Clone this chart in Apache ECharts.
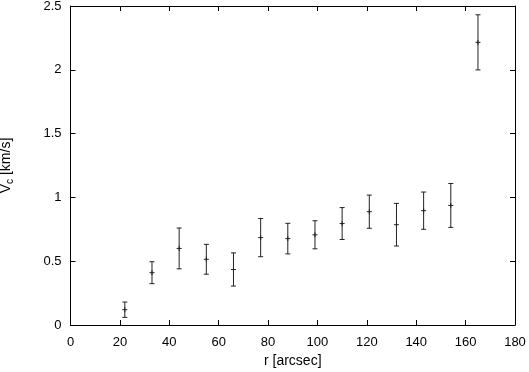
<!DOCTYPE html>
<html>
<head>
<meta charset="utf-8">
<script src="https://cdn.jsdelivr.net/npm/echarts@6/dist/echarts.min.js"></script>
<style>
html,body{margin:0;padding:0;background:#fff;}
#chart{width:529px;height:372px;}
</style>
</head>
<body>
<div id="chart"></div>
<script>
// Data
var radius = [22, 33, 44, 55, 66, 77, 88, 99, 110, 121, 132, 143, 154, 165];
var velocity = [0.12, 0.41, 0.60, 0.515, 0.435, 0.685, 0.677, 0.707, 0.795, 0.888, 0.786, 0.896, 0.937, 2.215];
var errLow = [0.06, 0.086, 0.16, 0.117, 0.13, 0.15, 0.12, 0.11, 0.125, 0.13, 0.167, 0.146, 0.172, 0.216];
var errHigh = [0.06, 0.086, 0.16, 0.117, 0.13, 0.15, 0.12, 0.11, 0.125, 0.13, 0.167, 0.146, 0.172, 0.216];
var xTicks = [0, 20, 40, 60, 80, 100, 120, 140, 160, 180];
var yTicks = [0, 0.5, 1, 1.5, 2, 2.5];

var FONT = 'Liberation Sans';
var data = radius.map(function (r, i) {
  return [r, velocity[i], velocity[i] - errLow[i], velocity[i] + errHigh[i]];
});

var chart = echarts.init(document.getElementById('chart'), null, {renderer: 'canvas'});
var lineStyle = {stroke: '#222', lineWidth: 1};
function renderItem(params, api) {
  var x = api.value(0);
  var c = api.coord([x, api.value(1)]);
  var lo = api.coord([x, api.value(2)]);
  var hi = api.coord([x, api.value(3)]);
  var cap = 2.5, pm = 2.5;
  return {
    type: 'group',
    children: [
      {type: 'line', shape: {x1: c[0], y1: lo[1], x2: c[0], y2: hi[1]}, style: lineStyle},
      {type: 'line', shape: {x1: c[0] - cap, y1: lo[1], x2: c[0] + cap, y2: lo[1]}, style: lineStyle},
      {type: 'line', shape: {x1: c[0] - cap, y1: hi[1], x2: c[0] + cap, y2: hi[1]}, style: lineStyle},
      {type: 'line', shape: {x1: c[0] - pm, y1: c[1], x2: c[0] + pm, y2: c[1]}, style: lineStyle},
      {type: 'line', shape: {x1: c[0], y1: c[1] - pm, x2: c[0], y2: c[1] + pm}, style: lineStyle}
    ]
  };
}

var axisLine = {show: true, onZero: false, lineStyle: {color: '#000', width: 1}};
var axisTick = {show: true, inside: true, length: 5, lineStyle: {color: '#000'}};
var labelStyle = {color: '#000', fontFamily: FONT, fontSize: 13};

chart.setOption({
  animation: false,
  backgroundColor: '#fff',
  grid: {left: 70.5, right: 14, top: 6, bottom: 47, containLabel: false, outerBoundsMode: 'none'},
  xAxis: [{
    type: 'value', min: xTicks[0], max: xTicks[xTicks.length - 1], interval: xTicks[1] - xTicks[0],
    position: 'bottom',
    axisLine: axisLine, axisTick: axisTick, splitLine: {show: false},
    axisLabel: Object.assign({margin: 11}, labelStyle),
    name: 'r [arcsec]', nameLocation: 'middle', nameGap: 27,
    nameTextStyle: {color: '#000', fontFamily: FONT, fontSize: 14}
  }, {
    type: 'value', min: xTicks[0], max: xTicks[xTicks.length - 1], interval: xTicks[1] - xTicks[0],
    position: 'top',
    axisLine: axisLine, axisTick: axisTick, splitLine: {show: false},
    axisLabel: {show: false}
  }],
  yAxis: [{
    type: 'value', min: yTicks[0], max: yTicks[yTicks.length - 1], interval: yTicks[1] - yTicks[0],
    position: 'left',
    axisLine: axisLine, axisTick: axisTick, splitLine: {show: false},
    axisLabel: Object.assign({margin: 9}, labelStyle),
    name: 'V{sub|c} [km/s]', nameLocation: 'middle', nameGap: 55, nameRotate: 90,
    nameTextStyle: {
      color: '#000', fontFamily: FONT, fontSize: 14,
      rich: {sub: {fontSize: 10, fontFamily: FONT, color: '#000', padding: [8, 0, 0, 0]}}
    }
  }, {
    type: 'value', min: yTicks[0], max: yTicks[yTicks.length - 1], interval: yTicks[1] - yTicks[0],
    position: 'right',
    axisLine: axisLine, axisTick: axisTick, splitLine: {show: false},
    axisLabel: {show: false}
  }],
  series: [{
    type: 'custom',
    xAxisIndex: 0, yAxisIndex: 0,
    renderItem: renderItem,
    data: data,
    clip: false
  }]
});
</script>
</body>
</html>
